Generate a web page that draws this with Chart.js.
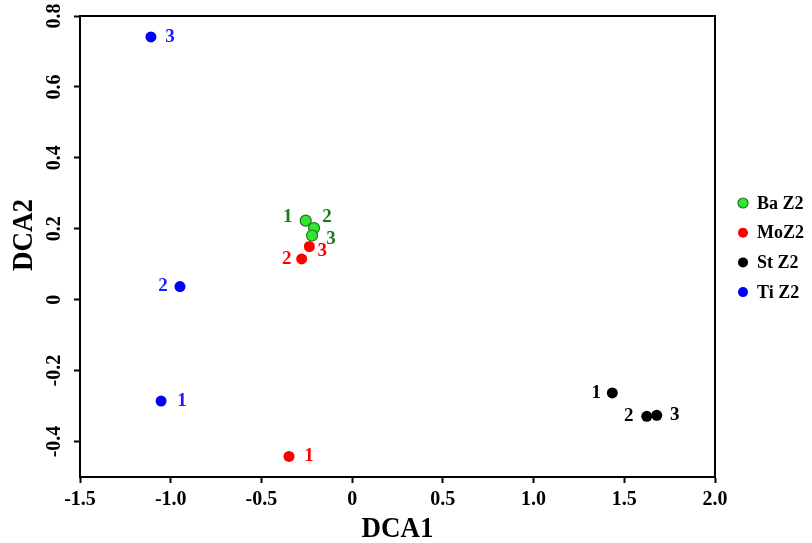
<!DOCTYPE html>
<html>
<head>
<meta charset="utf-8">
<script src="https://cdn.jsdelivr.net/npm/chart.js@4.4.1/dist/chart.umd.min.js"></script>
<style>
  html, body { margin: 0; padding: 0; background: #fff; }
  #wrap { width: 812px; height: 543px; }
</style>
</head>
<body>
<div id="wrap"><canvas id="dcaChart"></canvas></div>
<script>
// DCA ordination scores, three replicates per site
const seriesNames = ['Ba Z2', 'MoZ2', 'St Z2', 'Ti Z2'];
const replicateNames = ['1', '2', '3'];

const baX = [-0.256, -0.210, -0.221];
const baY = [0.223, 0.202, 0.181];
const moX = [-0.348, -0.278, -0.236];
const moY = [-0.442, 0.115, 0.150];
const stX = [1.434, 1.624, 1.679];
const stY = [-0.263, -0.329, -0.326];
const tiX = [-1.053, -0.949, -1.109];
const tiY = [-0.286, 0.037, 0.741];

const xTickValues = [-1.5, -1.0, -0.5, 0, 0.5, 1.0, 1.5, 2.0];
const yTickValues = [-0.4, -0.2, 0, 0.2, 0.4, 0.6, 0.8];

// styling (colours + where each replicate number sits next to its dot)
const fillColors = ['#33e633', '#ff0000', '#000000', '#0000ff'];
const edgeColors = ['#1b7a1b', '#ff0000', '#000000', '#0000ff'];
const labelColors = ['#1b7a1b', '#ff0000', '#000000', '#1a1aff'];
const labelOffsets = [
  [[-18, -4], [13, -11], [19, 4]],
  [[20, 0], [-15, 0], [13, 5]],
  [[-16, 0], [-18, 0], [18, 0]],
  [[21, 0], [-17, 0], [19, 0]]
];

const serif = "'Liberation Serif', 'Times New Roman', serif";

function toPoints(xs, ys) {
  return xs.map((x, i) => ({ x: x, y: ys[i] }));
}

const seriesPoints = [
  toPoints(baX, baY),
  toPoints(moX, moY),
  toPoints(stX, stY),
  toPoints(tiX, tiY)
];

function fmtTick(v) {
  return v === 0 ? '0' : v.toFixed(1);
}

const extrasPlugin = {
  id: 'dcaExtras',
  afterDraw(chart) {
    const ctx = chart.ctx;
    const area = chart.chartArea;
    ctx.save();

    // frame around the plot
    ctx.strokeStyle = '#000';
    ctx.lineWidth = 2;
    ctx.strokeRect(area.left, area.top, area.right - area.left, area.bottom - area.top);

    // replicate numbers next to points
    ctx.font = 'bold 19px ' + serif;
    ctx.textAlign = 'center';
    ctx.textBaseline = 'middle';
    chart.data.datasets.forEach((ds, si) => {
      const meta = chart.getDatasetMeta(si);
      meta.data.forEach((pt, i) => {
        const off = labelOffsets[si][i];
        ctx.fillStyle = labelColors[si];
        ctx.fillText(replicateNames[i], pt.x + off[0], pt.y + off[1]);
      });
    });

    // legend
    const legendTop = 203;
    const legendGap = 29.7;
    ctx.font = 'bold 18px ' + serif;
    ctx.textAlign = 'left';
    seriesNames.forEach((name, i) => {
      const y = legendTop + i * legendGap;
      ctx.beginPath();
      ctx.arc(743, y, 5, 0, Math.PI * 2);
      ctx.fillStyle = fillColors[i];
      ctx.fill();
      if (edgeColors[i] !== fillColors[i]) {
        ctx.lineWidth = 1.2;
        ctx.strokeStyle = edgeColors[i];
        ctx.stroke();
      }
      ctx.fillStyle = '#000';
      ctx.fillText(name, 757, y + 1);
    });

    // axis titles (source text is a bit tall, so stretch slightly)
    ctx.fillStyle = '#000';
    ctx.font = 'bold 27px ' + serif;
    ctx.textAlign = 'center';
    ctx.save();
    ctx.translate((area.left + area.right) / 2, 529);
    ctx.scale(1, 1.12);
    ctx.fillText('DCA1', 0, 0);
    ctx.restore();
    ctx.translate(24, 235);
    ctx.rotate(-Math.PI / 2);
    ctx.scale(1, 1.12);
    ctx.fillText('DCA2', 0, 0);

    ctx.restore();
  }
};

const axisBase = {
  type: 'linear',
  border: { display: true, color: '#000', width: 2 },
  grid: {
    display: true,
    drawOnChartArea: false,
    drawTicks: true,
    tickLength: 6,
    tickWidth: 2,
    tickColor: '#000'
  }
};

new Chart(document.getElementById('dcaChart'), {
  type: 'scatter',
  data: {
    datasets: seriesPoints.map((pts, i) => ({
      label: seriesNames[i],
      data: pts,
      pointRadius: 5.5,
      pointBackgroundColor: fillColors[i],
      pointBorderColor: edgeColors[i],
      pointBorderWidth: i === 0 ? 1.2 : 0
    }))
  },
  options: {
    responsive: true,
    maintainAspectRatio: false,
    animation: false,
    events: [],
    layout: { padding: { top: 16, right: 97, left: 0, bottom: 0 } },
    plugins: {
      legend: { display: false },
      tooltip: { enabled: false }
    },
    scales: {
      x: {
        ...axisBase,
        position: 'bottom',
        min: -1.5,
        max: 2.0,
        afterBuildTicks: s => { s.ticks = xTickValues.map(v => ({ value: v })); },
        afterFit: s => { s.height = 66; },
        ticks: {
          color: '#000',
          padding: 5,
          maxRotation: 0,
          font: { family: serif, size: 20, weight: 'bold' },
          callback: v => fmtTick(v)
        }
      },
      y: {
        ...axisBase,
        position: 'left',
        min: -0.5,
        max: 0.8,
        afterBuildTicks: s => { s.ticks = yTickValues.map(v => ({ value: v })); },
        afterFit: s => { s.width = 80; },
        ticks: {
          color: '#000',
          padding: 3,
          minRotation: 90,
          maxRotation: 90,
          crossAlign: 'center',
          font: { family: serif, size: 20, weight: 'bold' },
          callback: v => fmtTick(v)
        }
      }
    }
  },
  plugins: [extrasPlugin]
});
</script>
</body>
</html>
